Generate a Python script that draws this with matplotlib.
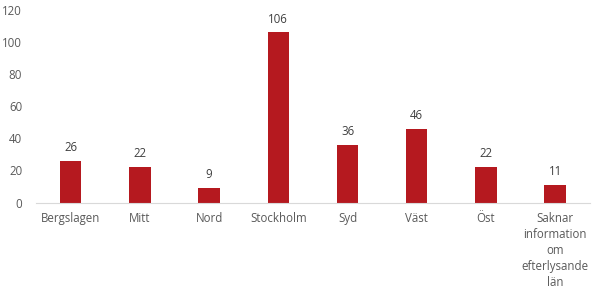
import matplotlib
matplotlib.use("Agg")
import matplotlib.pyplot as plt

regioner = ["Bergslagen", "Mitt", "Nord", "Stockholm", "Syd", "Väst", "Öst",
            "Saknar\ninformation\nom\nefterlysande\nlän"]
antal = [26, 22, 9, 106, 36, 46, 22, 11]

plt.rcParams['font.family'] = ['Open Sans', 'DejaVu Sans']

fig = plt.figure(figsize=(6, 2.89), dpi=100)
ax = fig.add_axes([0.06, 0.2993, 0.923, 0.666])

x = range(len(regioner))
staplar = ax.bar(x, antal, width=0.31, color="#B5191F")
ax.bar_label(staplar, padding=5, fontsize=8.3, color="#404040")

ax.set_xlim(-0.5, len(regioner) - 0.5)
ax.set_ylim(0, 120)
ax.set_yticks(range(0, 121, 20))
ax.set_xticks(list(x))
ax.set_xticklabels(regioner, linespacing=1.3)
ax.tick_params(axis="both", length=0, labelsize=8.3, colors="#595959")
ax.tick_params(axis="x", pad=7)
ax.tick_params(axis="y", pad=10)

for s in ["top", "right", "left"]:
    ax.spines[s].set_visible(False)
ax.spines["bottom"].set_color("#D9D9D9")

fig.savefig("out.png", dpi=100)
